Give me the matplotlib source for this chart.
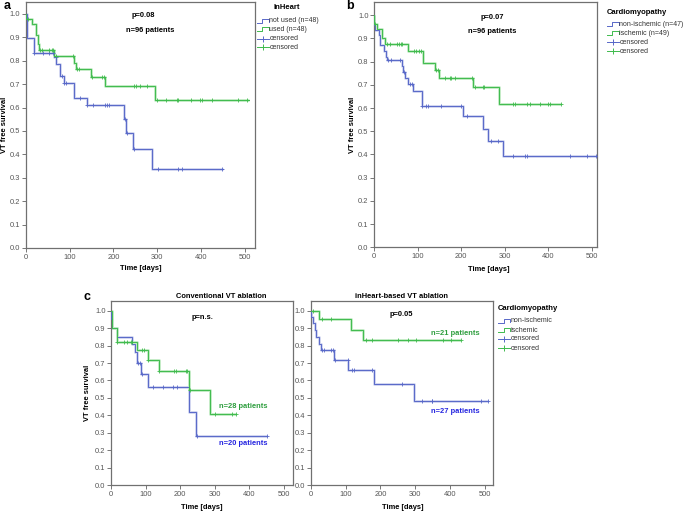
import matplotlib
matplotlib.use("Agg")
import matplotlib.pyplot as plt
from matplotlib.lines import Line2D
import numpy as np

plt.rcParams['font.family'] = ['Liberation Sans', 'DejaVu Sans']

W, H = 685, 513

# ---------------- DATA ----------------
# Panel a: InHeart not used / used
a_blue_t = [2, 20, 65, 70, 78, 87, 110, 140, 225, 228, 245, 288]
a_blue_s = [0.896, 0.835, 0.815, 0.786, 0.735, 0.706, 0.642, 0.610, 0.553, 0.493, 0.423, 0.338]
a_blue_c = [20, 40, 54, 63, 69, 82, 88, 93, 124, 140, 153, 181, 185, 190, 226, 230, 248, 302, 348, 356, 447]
a_blue_end = 450
a_green_t = [1, 15, 24, 27, 30, 65, 110, 114, 148, 181, 295]
a_green_s = [0.980, 0.955, 0.91, 0.87, 0.847, 0.82, 0.79, 0.764, 0.732, 0.691, 0.633]
a_green_c = [5, 32, 37, 54, 60, 63, 69, 107, 117, 121, 152, 175, 178, 248, 252, 261, 276,
             299, 319, 344, 348, 378, 397, 401, 426, 485, 504]
a_green_end = 510

# Panel b: non-ischemic / ischemic
b_blue_t = [1, 3, 11, 14, 24, 27, 29, 65, 67, 71, 79, 90, 110, 204, 250, 263, 297]
b_blue_s = [0.96, 0.935, 0.915, 0.871, 0.845, 0.82, 0.806, 0.78, 0.756, 0.73, 0.704,
            0.675, 0.611, 0.564, 0.51, 0.459, 0.395]
b_blue_c = [33, 38, 60, 70, 82, 87, 110, 119, 123, 155, 199, 214, 268, 286,
            320, 348, 351, 450, 489, 510]
b_blue_end = 510
b_green_t = [1, 8, 19, 25, 79, 113, 140, 150, 228, 288]
b_green_s = [0.961, 0.94, 0.90, 0.875, 0.847, 0.793, 0.764, 0.73, 0.689, 0.618]
b_green_c = [3, 29, 37, 52, 58, 62, 65, 92, 97, 104, 109, 143, 146, 163, 174, 178, 186,
             226, 231, 250, 252, 320, 324, 351, 359, 381, 400, 404, 429]
b_green_end = 429

# Panel c left: Conventional VT ablation
cl_blue_t = [1, 3, 18, 62, 68, 74, 88, 108, 224, 245]
cl_blue_s = [0.95, 0.90, 0.851, 0.807, 0.761, 0.698, 0.635, 0.56, 0.419, 0.281]
cl_blue_c = [78, 84, 90, 122, 151, 180, 192, 248, 452]
cl_blue_end = 452
cl_green_t = [2, 16, 76, 106, 139, 224, 286]
cl_green_s = [0.90, 0.822, 0.772, 0.715, 0.657, 0.547, 0.409]
cl_green_c = [18, 38, 47, 58, 62, 89, 95, 106, 140, 182, 188, 217, 221, 228, 301, 349, 361]
cl_green_end = 361

# Panel c right: inHeart-based VT ablation
cr_blue_t = [0, 8, 12, 15, 25, 29, 67, 108, 181, 296]
cr_blue_s = [0.964, 0.928, 0.89, 0.848, 0.81, 0.774, 0.72, 0.662, 0.578, 0.483]
cr_blue_c = [32, 39, 58, 63, 70, 106, 119, 124, 177, 263, 318, 347, 349, 487, 507]
cr_blue_end = 507
cr_green_t = [24, 116, 151]
cr_green_s = [0.951, 0.89, 0.831]
cr_green_c = [6, 31, 58, 159, 177, 251, 278, 301, 378, 401, 430]
cr_green_end = 430

y_ticks = [0.0, 0.1, 0.2, 0.3, 0.4, 0.5, 0.6, 0.7, 0.8, 0.9, 1.0]
x_ticks = [0, 100, 200, 300, 400, 500]

legend_a = ["not used (n=48)", "used (n=48)", "censored", "censored"]
legend_b = ["non-ischemic (n=47)", "ischemic (n=49)", "censored", "censored"]
legend_c = ["non-ischemic", "ischemic", "censored", "censored"]

# ---------------- STYLE ----------------
BLUE = '#5868c8'
BLUE_L = '#cdd2ef'
GREEN = '#40bb4e'
GREEN_L = '#bde9c0'
GRAY = '#555555'
FS = 5.4

fig = plt.figure(figsize=(W / 100, H / 100), dpi=100)


def fx(x):
    return x / W


def fy(y):
    return 1 - y / H


def add_ax(x0, y0, x1, y1):
    return fig.add_axes([fx(x0), fy(y1), fx(x1) - fx(x0), fy(y0) - fy(y1)])


def km(ax, t, s, c, end, col, lcol):
    tt = np.array([0] + list(t) + [end], dtype=float)
    ss = np.array([1.0] + list(s) + [s[-1]], dtype=float)
    ax.step(tt, ss, where='post', color=lcol, lw=2.0, solid_capstyle='butt', zorder=2)
    ax.step(tt, ss, where='post', color=col, lw=0.7, zorder=3)
    c = np.array(c, dtype=float)
    idx = np.searchsorted(tt[:-1], c, side='right') - 1
    ax.plot(c, ss[idx], linestyle='none', marker='+', ms=3.3, mew=0.6, color=col, zorder=4)


def style(ax, xmax, ytop):
    ax.set_xlim(0, xmax)
    ax.set_ylim(0, ytop)
    ax.set_xticks(x_ticks)
    ax.set_yticks(y_ticks)
    ax.set_yticklabels([f"{v:.1f}" for v in y_ticks])
    ax.tick_params(axis='both', direction='out', length=3.2, width=0.6, color='#606060',
                   labelsize=FS, labelcolor=GRAY, pad=0.8)
    for sp in ax.spines.values():
        sp.set_color('#707070')
        sp.set_linewidth(0.9)


def ftext(x, y, s, **kw):
    kw.setdefault('fontsize', FS)
    kw.setdefault('ha', 'center')
    kw.setdefault('va', 'center')
    fig.text(fx(x), fy(y), s, **kw)


def legend(x0, ytitle, ys, title, labels):
    ftext(x0 + 30, ytitle, title, fontweight='bold', fontsize=FS + 0.1)
    hw = 12
    for i, (yy, lab) in enumerate(zip(ys, labels)):
        col = BLUE if i % 2 == 0 else GREEN
        if i < 2:
            xs = [x0, x0 + hw * 0.45, x0 + hw * 0.45, x0 + hw, x0 + hw]
            yv = [yy + 2, yy + 2, yy - 2, yy - 2, yy + 1]
            fig.add_artist(Line2D([fx(v) for v in xs], [fy(v) for v in yv],
                                  color=col, lw=0.7, transform=fig.transFigure))
        else:
            fig.add_artist(Line2D([fx(x0), fx(x0 + hw)], [fy(yy), fy(yy)], color=col, lw=0.7,
                                  transform=fig.transFigure))
            fig.add_artist(Line2D([fx(x0 + hw / 2)], [fy(yy)], color=col, marker='+', ms=5,
                                  mew=0.7, linestyle='none', transform=fig.transFigure))
        ftext(x0 + hw + 0.3, yy, lab, ha='left', color='#333333', fontsize=5.0)


# ---------------- PANEL a ----------------
ax_a = add_ax(25.7, 2, 255, 248)
km(ax_a, a_blue_t, a_blue_s, a_blue_c, a_blue_end, BLUE, BLUE_L)
km(ax_a, a_green_t, a_green_s, a_green_c, a_green_end, GREEN, GREEN_L)
style(ax_a, 523, 1.051)
ftext(143.7, 15.7, "p=0.08", fontweight='bold')
ftext(150, 31, "n=96 patients", fontweight='bold')
ftext(140.7, 268.3, "Time [days]", fontweight='bold')
ftext(4.5, 125, "VT free survival", fontweight='bold', rotation=90)
ftext(7, 6, "a", fontweight='bold', fontsize=9)
legend(257, 7.3, [20.7, 29.3, 38.7, 47.3], "InHeart", legend_a)

# ---------------- PANEL b ----------------
ax_b = add_ax(374, 2, 596.7, 247.3)
km(ax_b, b_blue_t, b_blue_s, b_blue_c, b_blue_end, BLUE, BLUE_L)
km(ax_b, b_green_t, b_green_s, b_green_c, b_green_end, GREEN, GREEN_L)
style(ax_b, 511.6, 1.057)
ftext(492, 17.3, "p=0.07", fontweight='bold')
ftext(492.3, 31.7, "n=96 patients", fontweight='bold')
ftext(489, 269.3, "Time [days]", fontweight='bold')
ftext(352.3, 125, "VT free survival", fontweight='bold', rotation=90)
ftext(350, 6, "b", fontweight='bold', fontsize=9)
legend(607, 12.3, [24, 33.3, 42.3, 51.3], "Cardiomyopathy", legend_b)

# ---------------- PANEL c left ----------------
ax_cl = add_ax(111, 301, 293, 485)
km(ax_cl, cl_blue_t, cl_blue_s, cl_blue_c, cl_blue_end, BLUE, BLUE_L)
km(ax_cl, cl_green_t, cl_green_s, cl_green_c, cl_green_end, GREEN, GREEN_L)
style(ax_cl, 526, 1.056)
ftext(221, 296.3, "Conventional VT ablation", fontweight='bold')
ftext(202.3, 317.3, "p=n.s.", fontweight='bold')
ftext(243.7, 406.7, "n=28 patients", fontweight='bold', color='#2e9e3e')
ftext(243.7, 443.3, "n=20 patients", fontweight='bold', color='#2525e0')
ftext(201.7, 507.3, "Time [days]", fontweight='bold')
ftext(87.3, 393.3, "VT free survival", fontweight='bold', rotation=90)
ftext(87, 297, "c", fontweight='bold', fontsize=9)

# ---------------- PANEL c right ----------------
ax_cr = add_ax(310.7, 301, 493.3, 485)
km(ax_cr, cr_blue_t, cr_blue_s, cr_blue_c, cr_blue_end, BLUE, BLUE_L)
km(ax_cr, cr_green_t, cr_green_s, cr_green_c, cr_green_end, GREEN, GREEN_L)
style(ax_cr, 523.6, 1.056)
ftext(401.7, 296.3, "inHeart-based VT ablation", fontweight='bold')
ftext(401.7, 315, "p=0.05", fontweight='bold')
ftext(455.7, 333.3, "n=21 patients", fontweight='bold', color='#2e9e3e')
ftext(455, 411.3, "n=27 patients", fontweight='bold', color='#2525e0')
ftext(402.3, 507.3, "Time [days]", fontweight='bold')
legend(498.3, 308.3, [320.7, 330, 339, 348.3], "Cardiomyopathy", legend_c)

fig.savefig("out.png", dpi=100, facecolor='white')
